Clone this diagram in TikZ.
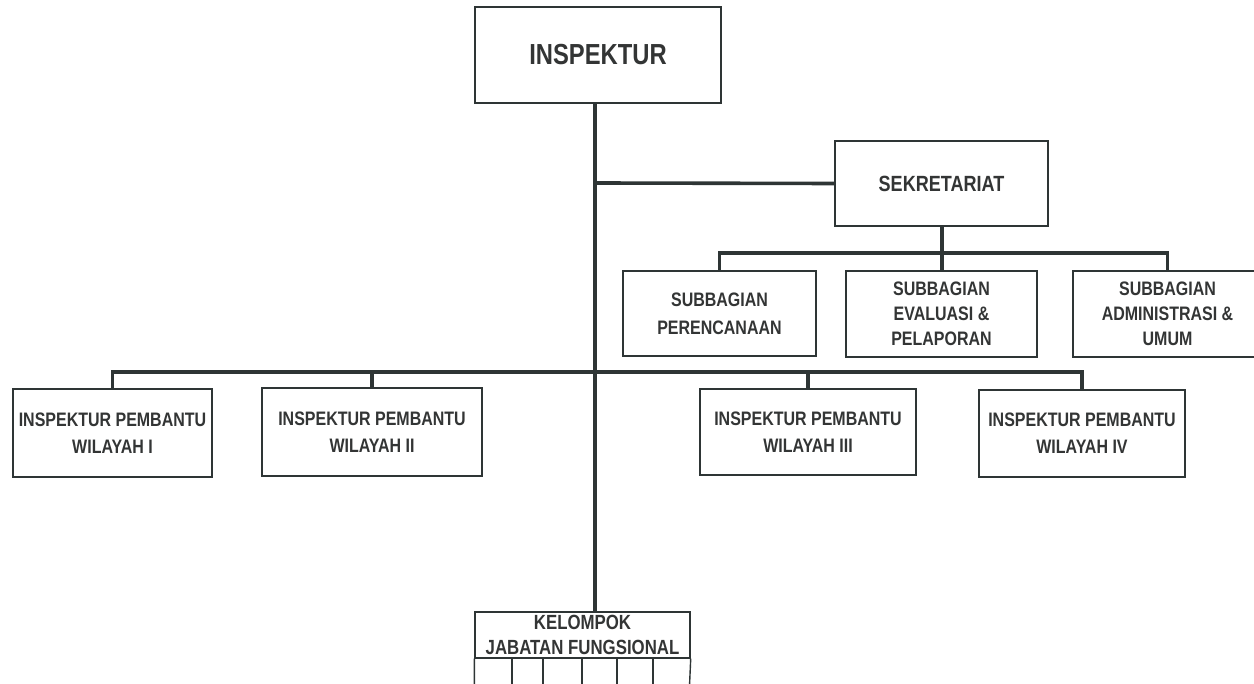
\documentclass[tikz,border=0pt]{standalone}
\usepackage{fontspec}
\setmainfont{Liberation Sans}[FakeStretch=0.82]
\definecolor{ink}{HTML}{2E3535}
\definecolor{txt}{HTML}{333535}
\tikzset{
  x=1pt, y=-1pt,
  orgbox/.style={draw=ink, line width=1.4pt, fill=white, rectangle, inner sep=0pt,
    align=center, text=txt, font=\bfseries\fontsize{19.5}{27}\selectfont},
  conn/.style={draw=ink, line width=3.6pt},
  thin/.style={draw=ink, line width=1.4pt}
}
\begin{document}
\begin{tikzpicture}
\useasboundingbox (0,0) rectangle (1254,684);
\clip (0,0) rectangle (1254,684);
\fill[white] (0,0) rectangle (1254,684);

% junctions on the main spine and under the secretariat
\coordinate (jA) at (595,183);
\coordinate (jB) at (595,372);
\coordinate (jS) at (942,253);

% connectors (drawn first, boxes sit on top)
\node[orgbox, minimum width=246pt, minimum height=96pt,
      font=\bfseries\fontsize{29}{32}\selectfont] (insp) at (598,55) {INSPEKTUR};
\node[orgbox, minimum width=213pt, minimum height=85pt,
      font=\bfseries\fontsize{22}{26}\selectfont] (sek) at (941.5,183.5) {SEKRETARIAT};

\node[orgbox, minimum width=193pt, minimum height=85pt,
      font=\bfseries\fontsize{19.5}{28}\selectfont] (sp) at (719.5,313.5) {SUBBAGIAN\\PERENCANAAN};
\node[orgbox, minimum width=191pt, minimum height=86pt,
      font=\bfseries\fontsize{19.5}{25}\selectfont] (se) at (941.5,314) {SUBBAGIAN\\EVALUASI \&\\PELAPORAN};
\node[orgbox, minimum width=189pt, minimum height=86pt,
      font=\bfseries\fontsize{19.5}{25}\selectfont] (sa) at (1167.5,314) {SUBBAGIAN\\ADMINISTRASI \&\\UMUM};

\node[orgbox, minimum width=199pt, minimum height=88pt] (w1) at (112.5,433) {INSPEKTUR PEMBANTU\\WILAYAH I};
\node[orgbox, minimum width=220pt, minimum height=88pt] (w2) at (372,432) {INSPEKTUR PEMBANTU\\WILAYAH II};
\node[orgbox, minimum width=216pt, minimum height=86pt] (w3) at (808,432) {INSPEKTUR PEMBANTU\\WILAYAH III};
\node[orgbox, minimum width=206pt, minimum height=87pt] (w4) at (1082,433.5) {INSPEKTUR PEMBANTU\\WILAYAH IV};

\node[orgbox, minimum width=215pt, minimum height=46pt,
      font=\bfseries\fontsize{20.5}{25}\selectfont] (kel) at (582.5,635) {KELOMPOK\\JABATAN FUNGSIONAL};

% main spine and branches
\draw[conn] (insp.south -| jA) -- (kel.north -| jA);
\draw[conn] (jA) -- (sek.west);

% secretariat sub-units
\draw[conn] (sek.south -| jS) -- (jS);
\draw[conn] (sp.north) -- (sp.north |- jS) -- (sa.north |- jS) -- (sa.north);
\draw[conn] (jS) -- (se.north -| jS);

% assistant inspectors
\draw[conn] (w1.north) -- (w1.north |- jB) -- (w4.north |- jB) -- (w4.north);
\draw[conn] (w2.north) -- (w2.north |- jB);
\draw[conn] (w3.north) -- (w3.north |- jB);

% member cells below the functional group
\draw[thin] (kel.south west) -- ++(0,32) -- ++(215,0) -- (kel.south east);
\foreach \cx in {512,543,582,617,653} {
  \draw[thin] (\cx,658) -- (\cx,690);
}
\end{tikzpicture}
\end{document}
